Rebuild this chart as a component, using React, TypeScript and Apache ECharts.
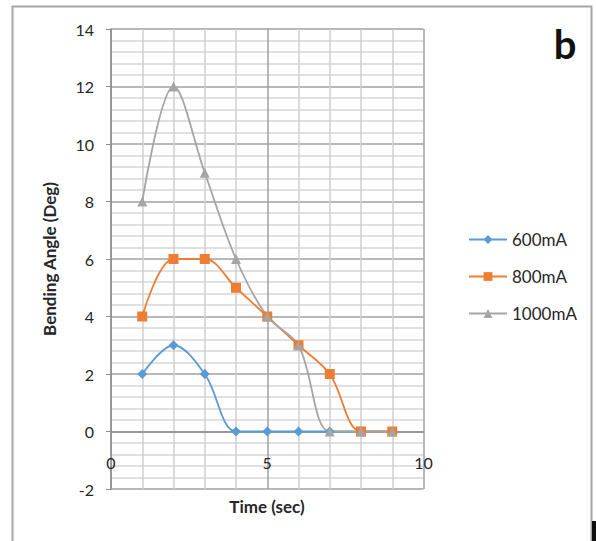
import React, { useEffect, useRef } from "react";
import * as echarts from "echarts";

const times = [1, 2, 3, 4, 5, 6, 7, 8, 9];
const s600 = [2, 3, 2, 0, 0, 0, 0, 0, 0];
const s800 = [4, 6, 6, 5, 4, 3, 2, 0, 0];
const s1000 = [8, 12, 9, 6, 4, 3, 0, 0, 0];
const seriesNames = ["600mA", "800mA", "1000mA"];
const seriesColors = ["#5B9BD5", "#ED7D31", "#A5A5A5"];

const FONT = "Lato, 'Open Sans', sans-serif";

export default function App() {
  const ref = useRef<HTMLDivElement>(null);
  useEffect(() => {
    if (!ref.current) return;
    const chart = echarts.init(ref.current, undefined, { renderer: "svg" });
    const pairs = (ys: number[]) => times.map((t, i) => [t, ys[i]]);
    const mk = (name: string, ys: number[], color: string, symbol: string, size: number) => ({
      name,
      type: "line",
      data: pairs(ys),
      smooth: 0.35,
      symbol,
      symbolSize: size,
      showSymbol: true,
      lineStyle: { color, width: 1.8 },
      itemStyle: { color },
    });
    chart.setOption({
      animation: false,
      backgroundColor: "#ffffff",
      textStyle: { fontFamily: FONT },
      grid: { left: 111, top: 29, width: 312.5, height: 460, containLabel: false },
      xAxis: {
        type: "value",
        min: 0,
        max: 10,
        interval: 5,
        position: "bottom",
        offset: -57.5,
        axisLine: { show: true, onZero: false, lineStyle: { color: "#8c8c8c", width: 1.5 } },
        axisTick: { show: false },
        axisLabel: { margin: 23, color: "#262626", fontSize: 16, fontFamily: FONT },
        splitLine: { show: true, lineStyle: { color: "#a0a0a0", width: 1.5 } },
        minorTick: { show: false, splitNumber: 5 },
        minorSplitLine: { show: true, lineStyle: { color: "#cfcfcf", width: 1.5 } },
      },
      yAxis: {
        type: "value",
        min: -2,
        max: 14,
        interval: 2,
        axisLine: { show: true, onZero: false, lineStyle: { color: "#8c8c8c", width: 1.5 } },
        axisTick: { show: true, length: 5, lineStyle: { color: "#8c8c8c" } },
        axisLabel: { margin: 17, color: "#262626", fontSize: 16, fontFamily: FONT },
        splitLine: { show: true, lineStyle: { color: "#a0a0a0", width: 1.5 } },
        minorTick: { show: false, splitNumber: 5 },
        minorSplitLine: { show: true, lineStyle: { color: "#d6d6d6", width: 1.5 } },
      },
      legend: {
        orient: "vertical",
        left: 463,
        top: 226,
        itemWidth: 38,
        itemHeight: 11,
        itemGap: 20,
        textStyle: { fontSize: 17, color: "#262626", fontFamily: FONT, padding: [0, 0, 0, 0] },
        data: seriesNames,
      },
      series: [
        mk(seriesNames[0], s600, seriesColors[0], "diamond", 10),
        mk(seriesNames[1], s800, seriesColors[1], "rect", 10),
        mk(seriesNames[2], s1000, seriesColors[2], "triangle", 10),
      ],
      graphic: [
        {
          type: "rect",
          shape: { x: 12.5, y: 6.5, width: 579, height: 620 },
          style: { fill: "none", stroke: "#a6a6a6", lineWidth: 2 },
          silent: true,
        },
        {
          type: "rect",
          shape: { x: 592, y: 521, width: 4, height: 20 },
          style: { fill: "#111111" },
          silent: true,
        },
        {
          type: "text",
          x: 267,
          y: 506,
          style: {
            text: "Time (sec)",
            font: `bold 17px ${FONT}`,
            fill: "#262626",
            align: "center",
            verticalAlign: "middle",
          },
        },
        {
          type: "text",
          x: 49,
          y: 259,
          rotation: Math.PI / 2,
          style: {
            text: "Bending Angle (Deg)",
            font: `bold 17px ${FONT}`,
            fill: "#262626",
            align: "center",
            verticalAlign: "middle",
          },
        },
        {
          type: "text",
          x: 565,
          y: 44,
          style: {
            text: "b",
            font: `bold 40px ${FONT}`,
            fill: "#111111",
            align: "center",
            verticalAlign: "middle",
          },
        },
      ],
    });
    return () => chart.dispose();
  }, []);
  return (
    <div
      ref={ref}
      style={{ position: "fixed", left: 0, top: 0, width: 596, height: 541 }}
    />
  );
}
